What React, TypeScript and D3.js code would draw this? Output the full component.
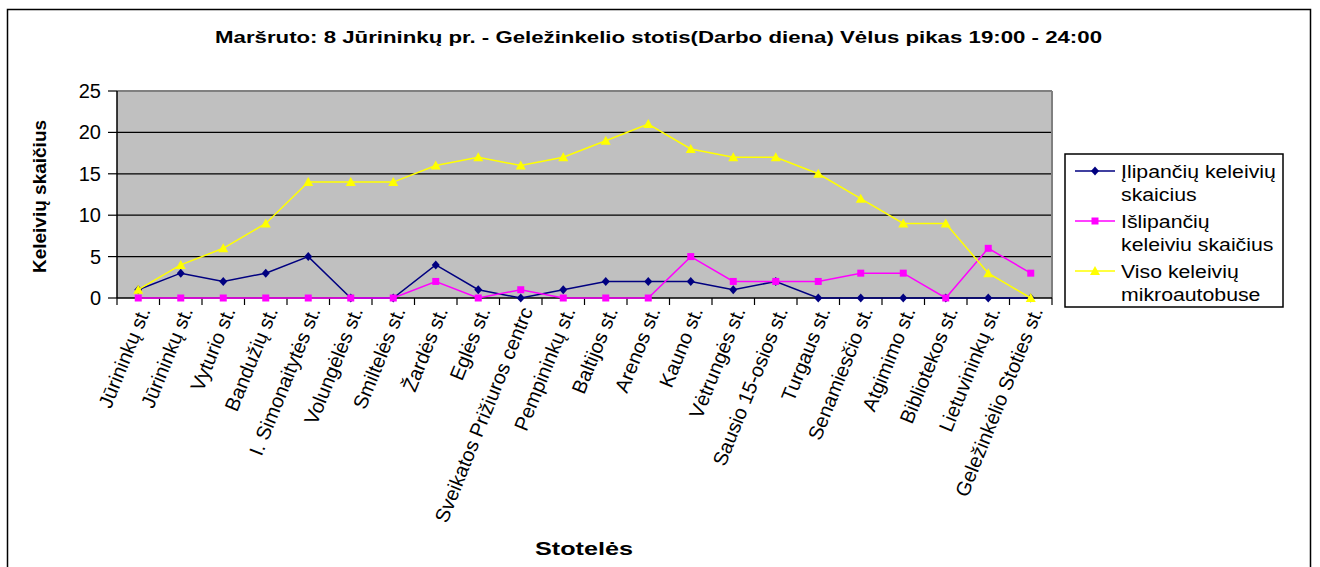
import * as d3 from 'd3';

const stops = [
  'Jūrininkų st.', 'Jūrininkų st.', 'Vyturio st.', 'Bandužių st.', 'I. Simonaitytės st.',
  'Volungėlės st.', 'Smiltelės st.', 'Žardės st.', 'Eglės st.', 'Sveikatos Prižiuros centrc',
  'Pempininkų st.', 'Baltijos st.', 'Arenos st.', 'Kauno st.', 'Vėtrungės st.',
  'Sausio 15-osios st.', 'Turgaus st.', 'Senamiesčio st.', 'Atgimimo st.', 'Bibliotekos st.',
  'Lietuvininkų st.', 'Geležinkėlio Stoties st.',
];
const boarding = [1, 3, 2, 3, 5, 0, 0, 4, 1, 0, 1, 2, 2, 2, 1, 2, 0, 0, 0, 0, 0, 0];
const alighting = [0, 0, 0, 0, 0, 0, 0, 2, 0, 1, 0, 0, 0, 5, 2, 2, 2, 3, 3, 0, 6, 3];
const onboard = [1, 4, 6, 9, 14, 14, 14, 16, 17, 16, 17, 19, 21, 18, 17, 17, 15, 12, 9, 9, 3, 0];
const yTicks = [0, 5, 10, 15, 20, 25];

const W = 1320;
const H = 567;
const font = 'Arial, "Liberation Sans", sans-serif';

const plot = { left: 117, right: 1052, top: 91, bottom: 298 };

type Shape = 'diamond' | 'square' | 'triangle';
const series: { name: string[]; values: number[]; color: string; shape: Shape }[] = [
  { name: ['Įlipančių keleivių', 'skaicius'], values: boarding, color: '#000080', shape: 'diamond' },
  { name: ['Išlipančių', 'keleiviu skaičius'], values: alighting, color: '#FF00FF', shape: 'square' },
  { name: ['Viso keleivių', 'mikroautobuse'], values: onboard, color: '#FFFF00', shape: 'triangle' },
];

function Marker({ x, y, shape, color }: { x: number; y: number; shape: Shape; color: string }) {
  if (shape === 'diamond') {
    return <path d={`M${x},${y - 4.5}L${x + 4},${y}L${x},${y + 4.5}L${x - 4},${y}Z`} fill={color} />;
  }
  if (shape === 'square') {
    return <rect x={x - 3.5} y={y - 3.5} width={7} height={7} fill={color} />;
  }
  return <path d={`M${x},${y - 5}L${x + 5},${y + 4}L${x - 5},${y + 4}Z`} fill={color} />;
}

export default function App() {
  const x = d3.scaleBand<number>().domain(d3.range(stops.length)).range([plot.left, plot.right]);
  const y = d3.scaleLinear().domain([0, 25]).range([plot.bottom, plot.top]);
  const cx = (i: number) => (x(i) ?? 0) + x.bandwidth() / 2;
  const line = d3.line<number>().x((_, i) => cx(i)).y((d) => y(d));

  const boundaries = d3.range(stops.length + 1).map((i) => plot.left + i * x.bandwidth());

  return (
    <svg width={W} height={H} style={{ position: 'absolute', left: 0, top: 0, background: '#fff' }} fontFamily={font}>
      <rect x={7.5} y={9.5} width={1303} height={570} fill="#fff" stroke="#000" strokeWidth={1.5} />
      <text x={215} y={43} fontWeight="bold" fontSize={17} textLength={887} lengthAdjust="spacingAndGlyphs">
        Maršruto: 8 Jūrininkų pr. - Geležinkelio stotis(Darbo diena) Vėlus pikas 19:00 - 24:00
      </text>

      <rect x={plot.left} y={plot.top} width={plot.right - plot.left} height={plot.bottom - plot.top} fill="#C0C0C0" />
      {yTicks.slice(1, -1).map((t) => (
        <line key={t} x1={plot.left} x2={plot.right} y1={y(t)} y2={y(t)} stroke="#000" strokeWidth={1.2} />
      ))}
      <line x1={plot.left} x2={plot.right} y1={plot.top} y2={plot.top} stroke="#808080" strokeWidth={2} />
      <line x1={plot.right} x2={plot.right} y1={plot.top} y2={plot.bottom} stroke="#808080" strokeWidth={2} />
      <line x1={plot.left} x2={plot.left} y1={plot.top} y2={plot.bottom} stroke="#000" strokeWidth={1.5} />
      <line x1={plot.left} x2={plot.right} y1={plot.bottom} y2={plot.bottom} stroke="#000" strokeWidth={1.5} />

      {yTicks.map((t) => (
        <g key={t}>
          <line x1={plot.left - 9} x2={plot.left} y1={y(t)} y2={y(t)} stroke="#000" strokeWidth={1.2} />
          <text x={101} y={y(t) + 7} textAnchor="end" fontSize={20}>{t}</text>
        </g>
      ))}
      {boundaries.map((b, i) => (
        <line key={i} x1={b} x2={b} y1={plot.bottom} y2={plot.bottom + 7} stroke="#000" strokeWidth={1.2} />
      ))}

      {stops.map((s, i) => (
        <text
          key={i}
          transform={`translate(${cx(i) + 6},${plot.bottom + 10}) rotate(-68)`}
          textAnchor="end"
          fontSize={20}
          dy="0.35em"
        >
          {s}
        </text>
      ))}

      {series.map((s) => (
        <g key={s.color}>
          <path d={line(s.values) ?? ''} fill="none" stroke={s.color} strokeWidth={1.5} />
          {s.values.map((v, i) => (
            <Marker key={i} x={cx(i)} y={y(v)} shape={s.shape} color={s.color} />
          ))}
        </g>
      ))}

      <text transform={`translate(46,${(plot.top + plot.bottom) / 2 + 2}) rotate(-90)`} textAnchor="middle" fontWeight="bold" fontSize={19}>
        Keleivių skaičius
      </text>
      <text x={535} y={555} fontWeight="bold" fontSize={19} textLength={98} lengthAdjust="spacingAndGlyphs">Stotelės</text>

      <rect x={1065} y={154} width={218} height={153} fill="#fff" stroke="#000" strokeWidth={1.5} />
      {series.map((s, k) => {
        const ly = 171 + k * 50;
        return (
          <g key={s.color}>
            <line x1={1075} x2={1115} y1={ly} y2={ly} stroke={s.color} strokeWidth={1.5} />
            <Marker x={1095} y={ly} shape={s.shape} color={s.color} />
            <text transform={`translate(1121,${ly + 6.5}) scale(1.15,1)`} fontSize={18.5}>{s.name[0]}</text>
            <text transform={`translate(1121,${ly + 29.5}) scale(1.15,1)`} fontSize={18.5}>{s.name[1]}</text>
          </g>
        );
      })}
    </svg>
  );
}
